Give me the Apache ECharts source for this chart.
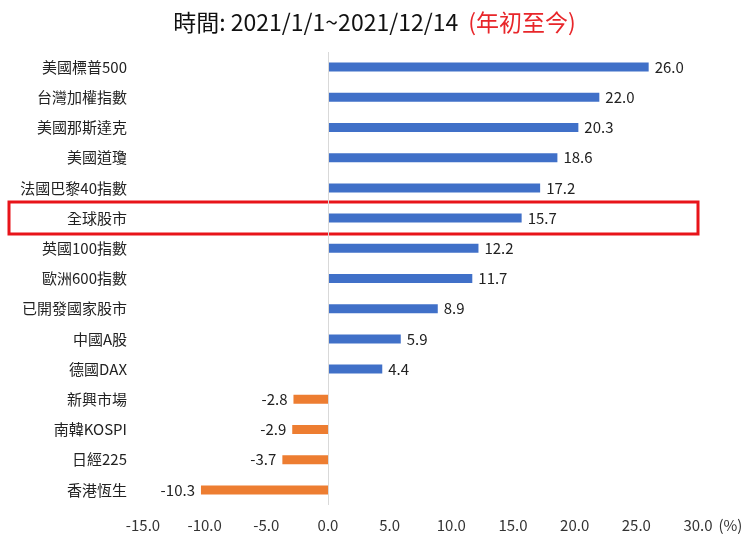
<!DOCTYPE html>
<html>
<head>
<meta charset="utf-8">
<script src="https://cdn.jsdelivr.net/npm/echarts@6/dist/echarts.min.js"></script>
<style>
  html, body { margin: 0; padding: 0; background: #fff; }
  #chart { width: 749px; height: 537px; }
</style>
</head>
<body>
<div id="chart"></div>
<script>
const categories = ['美國標普500', '台灣加權指數', '美國那斯達克', '美國道瓊', '法國巴黎40指數', '全球股市',
  '英國100指數', '歐洲600指數', '已開發國家股市', '中國A股', '德國DAX', '新興市場', '南韓KOSPI', '日經225', '香港恆生']
const returns = [26.0, 22.0, 20.3, 18.6, 17.2, 15.7, 12.2, 11.7, 8.9, 5.9, 4.4, -2.8, -2.9, -3.7, -10.3]
const highlight = '全球股市'

const font = '"Noto Sans CJK TC", "Noto Sans", sans-serif'

const chart = echarts.init(document.getElementById('chart'))

chart.setOption({
  backgroundColor: '#fff',
  animation: false,
  title: {
    left: 'center',
    top: 6,
    text: '{a|時間: 2021/1/1~2021/12/14}  {b|(年初至今)}',
    textStyle: {
      fontWeight: 'normal',
      rich: {
        a: { fontFamily: font, fontSize: 23, fontWeight: 'normal', color: '#111' },
        b: { fontFamily: font, fontSize: 23, fontWeight: 'normal', color: '#e8262a' }
      }
    }
  },
  grid: { left: 143, right: 51, top: 52, bottom: 32 },
  xAxis: {
    type: 'value',
    min: -15,
    max: 30,
    interval: 5,
    name: '(%)',
    nameLocation: 'end',
    nameGap: 6,
    nameTextStyle: { fontFamily: font, fontSize: 15, color: '#333', verticalAlign: 'top', padding: [13, 0, 0, 0] },
    axisLine: { show: false },
    axisTick: { show: false },
    splitLine: { show: false },
    axisLabel: {
      fontFamily: font, fontSize: 15, color: '#333', margin: 13,
      formatter: v => v.toFixed(1)
    }
  },
  yAxis: {
    type: 'category',
    inverse: true,
    data: categories,
    axisLine: { show: false },
    axisTick: { show: false },
    axisLabel: { fontFamily: font, fontSize: 15, color: '#222', margin: 16 }
  },
  series: [{
    type: 'bar',
    barWidth: 9,
    data: returns.map(v => ({
      value: v,
      itemStyle: { color: v >= 0 ? '#4070c8' : '#ed7d31' },
      label: { position: v >= 0 ? 'right' : 'left' }
    })),
    label: {
      show: true,
      distance: 6,
      fontFamily: font,
      fontSize: 15,
      color: '#222',
      formatter: p => p.value.toFixed(1)
    },
    markLine: {
      silent: true,
      symbol: 'none',
      label: { show: false },
      lineStyle: { color: '#d9d9d9', width: 1, type: 'solid' },
      data: [{ xAxis: 0 }]
    }
  }]
})

// red box around the highlighted row
const idx = categories.indexOf(highlight)
const cy = chart.convertToPixel({ yAxisIndex: 0 }, idx)
const right = chart.convertToPixel({ xAxisIndex: 0 }, 30)
chart.setOption({
  graphic: [{
    type: 'rect',
    shape: { x: 9, y: cy - 16, width: right - 9, height: 32 },
    style: { fill: 'none', stroke: '#e8141a', lineWidth: 3 }
  }]
})
</script>
</body>
</html>
